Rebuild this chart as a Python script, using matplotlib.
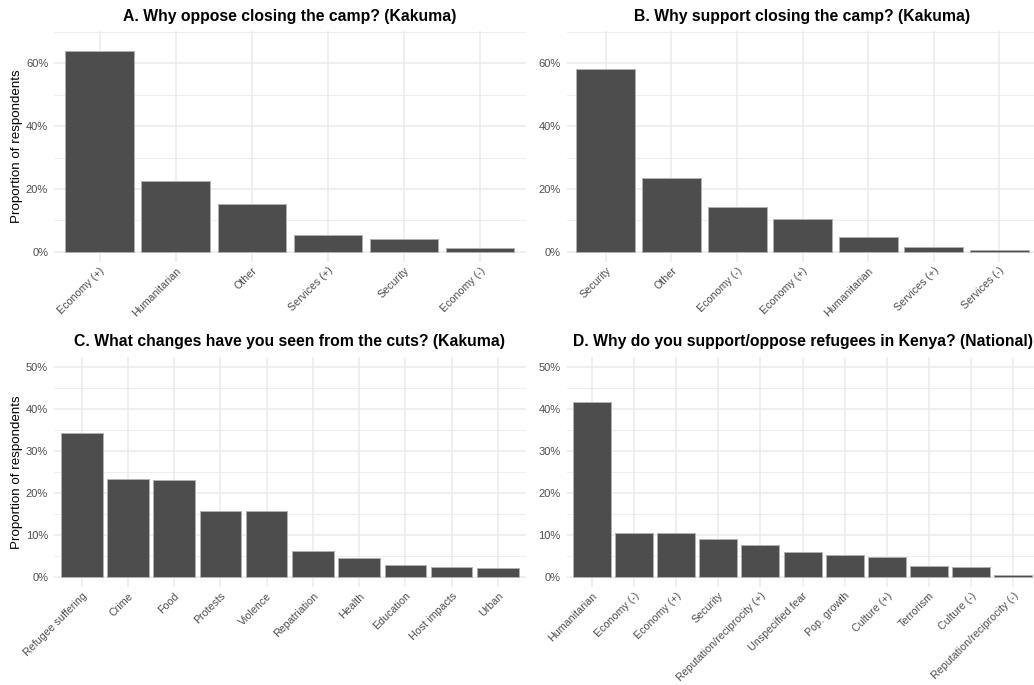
import matplotlib
matplotlib.use('Agg')
import matplotlib.pyplot as plt
from matplotlib.ticker import MultipleLocator, PercentFormatter

plt.rcParams['font.family'] = ['Liberation Sans', 'DejaVu Sans']

# proportions of respondents, in percent
oppose_labels = ['Economy (+)', 'Humanitarian', 'Other', 'Services (+)', 'Security', 'Economy (-)']
oppose_vals = [63.7, 22.6, 15.2, 5.5, 4.2, 1.3]

support_labels = ['Security', 'Other', 'Economy (-)', 'Economy (+)', 'Humanitarian',
                  'Services (+)', 'Services (-)']
support_vals = [58.0, 23.4, 14.4, 10.5, 4.9, 1.6, 0.7]

cuts_labels = ['Refugee suffering', 'Crime', 'Food', 'Protests', 'Violence', 'Repatriation',
               'Health', 'Education', 'Host impacts', 'Urban']
cuts_vals = [34.2, 23.3, 23.1, 15.8, 15.6, 6.2, 4.4, 2.9, 2.4, 2.2]

national_labels = ['Humanitarian', 'Economy (-)', 'Economy (+)', 'Security',
                   'Reputation/reciprocity (+)', 'Unspecified fear', 'Pop. growth',
                   'Culture (+)', 'Terrorism', 'Culture (-)', 'Reputation/reciprocity (-)']
national_vals = [41.7, 10.4, 10.4, 9.1, 7.5, 6.0, 5.1, 4.7, 2.5, 2.4, 0.4]

panels = [
    ('A. Why oppose closing the camp? (Kakuma)', oppose_labels, oppose_vals, True),
    ('B. Why support closing the camp? (Kakuma)', support_labels, support_vals, False),
    ('C. What changes have you seen from the cuts? (Kakuma)', cuts_labels, cuts_vals, True),
    ('D. Why do you support/oppose refugees in Kenya? (National)', national_labels, national_vals, False),
]

W, H = 1034, 685
fig = plt.figure(figsize=(W / 100, H / 100), dpi=100)
fig.patch.set_facecolor('white')

# panel boxes in pixels: left, top, right, bottom
boxes = [(54, 31, 525.5, 262), (566.6, 31, 1038.5, 262),
         (54, 356.7, 525.5, 587.3), (566.6, 356.7, 1038.5, 587.3)]
ylims = [(-3.2, 70.2), (-3.2, 70.2), (-2.5, 52.5), (-2.5, 52.5)]
majors = [20, 20, 10, 10]
minors = [10, 10, 5, 5]

bar_col = '#4d4d4d'
grid_col = '#ebebeb'
text_col = '#4d4d4d'

for (title, labels, vals, ylab), (l, t, r, b), yl, mj, mn in zip(panels, boxes, ylims, majors, minors):
    ax = fig.add_axes([l / W, 1 - b / H, (r - l) / W, (b - t) / H])
    x = list(range(len(labels)))
    ax.bar(x, vals, width=0.9, color=bar_col, edgecolor='#b0b0b0', linewidth=0.7, zorder=3)
    ax.set_xlim(-0.6, len(labels) - 0.4)
    ax.set_ylim(*yl)
    ax.yaxis.set_major_locator(MultipleLocator(mj))
    ax.yaxis.set_minor_locator(MultipleLocator(mn))
    ax.yaxis.set_major_formatter(PercentFormatter(xmax=100, decimals=0))
    ax.set_xticks(x)
    ax.set_xticklabels(labels, rotation=45, ha='right', va='top', rotation_mode='anchor')
    ax.grid(True, which='major', axis='both', color=grid_col, linewidth=1.1, zorder=0)
    ax.grid(True, which='minor', axis='y', color=grid_col, linewidth=0.6, zorder=0)
    for s in ax.spines.values():
        s.set_visible(False)
    ax.tick_params(axis='both', which='both', length=0, labelcolor=text_col)
    ax.tick_params(axis='y', pad=4.2, labelsize=8.0)
    ax.tick_params(axis='x', pad=2.5, labelsize=7.7)
    ax.set_title(title, fontsize=11.3, fontweight='bold', pad=7.5)
    if ylab:
        ax.set_ylabel('Proportion of respondents', fontsize=9.6, labelpad=2)
    ax.set_axisbelow(True)

fig.savefig('out.png', dpi=100, facecolor='white')
